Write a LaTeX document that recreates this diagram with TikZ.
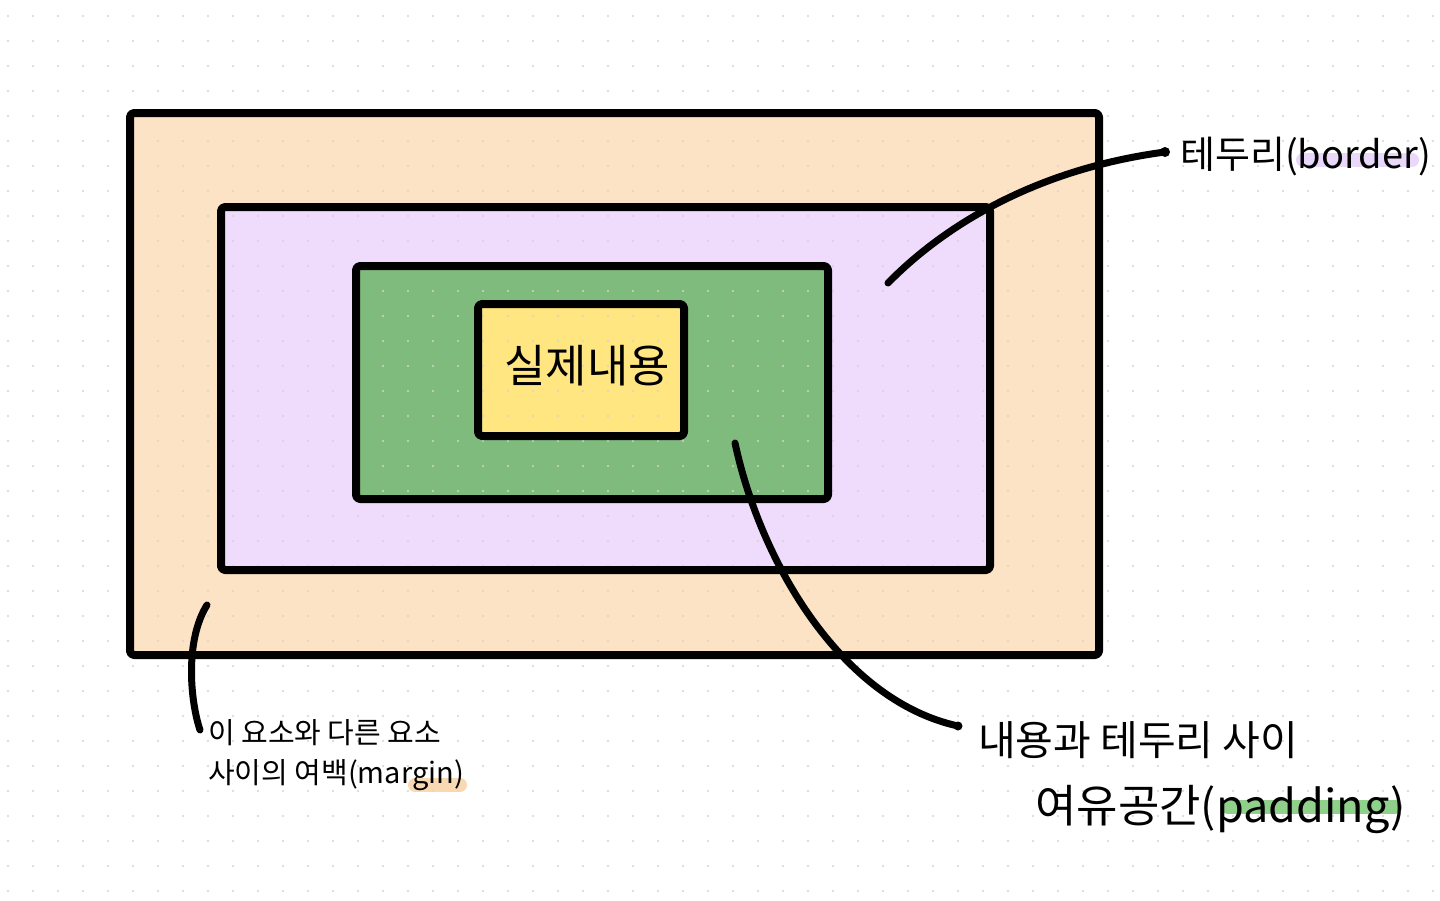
\documentclass[tikz,border=0pt]{standalone}
\usepackage{fontspec}
\setmainfont{Noto Sans CJK KR}
\begin{document}
\begin{tikzpicture}[x=1pt,y=-1pt,
  boxfill/.style={inner sep=0pt, outer sep=0pt, rounded corners=4pt},
  boxline/.style={line width=8pt, rounded corners=4pt, line join=round},
  conn/.style={line width=7pt, line cap=round, line join=round},
  hl/.style={line width=14pt, line cap=round, opacity=0.85},
  lbl/.style={inner sep=0pt, anchor=west, text=black}]
\definecolor{peach}{HTML}{FDE3C5}
\definecolor{lilac}{HTML}{EFDCFC}
\definecolor{leaf}{HTML}{7FBB7C}
\definecolor{butter}{HTML}{FFE680}
\definecolor{dotgray}{HTML}{D4D4D4}
\definecolor{hlpurple}{HTML}{E6D2FA}
\definecolor{hlpeach}{HTML}{F8D3A6}
\definecolor{hlgreen}{HTML}{7CC877}
\useasboundingbox[fill=white] (0,0) rectangle (1440,900);
% fills
\node[boxfill, fill=peach, minimum width=969pt, minimum height=542pt] (margin) at (614.5,384) {};
\node[boxfill, fill=lilac, minimum width=769pt, minimum height=363pt] (border) at (605.5,388.5) {};
\node[boxfill, fill=leaf, minimum width=472pt, minimum height=233pt] (padding) at (592,382.5) {};
\node[boxfill, fill=butter, minimum width=206pt, minimum height=132pt] (content) at (581,370) {};
% dot grid
\foreach \i in {0,...,57} {
  \foreach \j in {0,...,35} {
    \fill[dotgray] (8+25*\i,16+25*\j) circle (1.2pt);
  }
}
% highlights
\draw[hl, hlpurple] (1303,160) -- (1412,160);
\draw[hl, hlpeach] (415,785) -- (460,785);
\draw[hl, hlgreen] (1228,807) -- (1395,807);
% borders
\draw[boxline] (margin.north west) rectangle (margin.south east);
\draw[boxline] (border.north west) rectangle (border.south east);
\draw[boxline] (padding.north west) rectangle (padding.south east);
\draw[boxline] (content.north west) rectangle (content.south east);
% labels
\node[inner sep=0pt, font=\fontsize{45}{50}\selectfont] (contentlbl) at (587,366) {실제내용};
\node[lbl, font=\fontsize{38}{42}\selectfont] (borderlbl) at (1180,157) {테두리(border)};
\node[lbl, font=\fontsize{29}{33}\selectfont] (marginlbl1) at (208,733) {이 요소와 다른 요소};
\node[lbl, font=\fontsize{29}{33}\selectfont] (marginlbl2) at (208,775) {사이의 여백(margin)};
\node[lbl, font=\fontsize{41}{45}\selectfont] (paddinglbl1) at (978,740) {내용과 테두리 사이};
\node[lbl, font=\fontsize{45}{50}\selectfont] (paddinglbl2) at (1035,810) {여유공간(padding)};
% connector coordinates
\coordinate (bstart) at (888,283);
\coordinate (bend) at (1165,152);
\coordinate (pstart) at (735,443);
\coordinate (pend) at (958,726);
\coordinate (mstart) at (207,605);
\coordinate (mend) at (200,730);
% connectors
\draw[conn] (bstart) .. controls (940,230) and (1030,170) .. (bend);
\fill (bend) circle (5pt);
\draw[conn] (pstart) .. controls (760,560) and (840,700) .. (pend);
\fill (pend) circle (4.5pt);
\draw[conn] (mstart) .. controls (185,640) and (190,700) .. (mend);
\end{tikzpicture}
\end{document}
